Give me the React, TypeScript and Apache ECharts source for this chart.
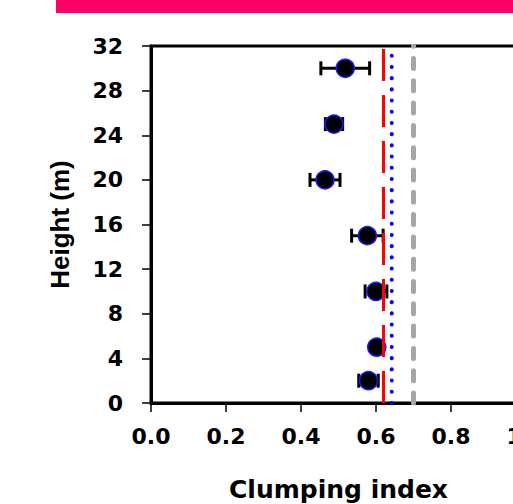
import React, { useEffect, useRef } from "react";
import * as echarts from "echarts";

// ---- data ----
const heights = [2, 5, 10, 15, 20, 25, 30];
const clumpingMean = [0.58, 0.602, 0.6, 0.577, 0.464, 0.488, 0.518];
const clumpingErr = [0.026, 0.01, 0.029, 0.042, 0.04, 0.023, 0.065];
const refRed = 0.62;
const refBlue = 0.642;
const refGray = 0.7;
const xTicks = [0, 0.2, 0.4, 0.6, 0.8, 1.0];
const yTicks = [0, 4, 8, 12, 16, 20, 24, 28, 32];

const TICK_FONT = "DejaVu Sans";

export default function App() {
  const ref = useRef<HTMLDivElement>(null);
  useEffect(() => {
    if (!ref.current) return;
    const chart = echarts.init(ref.current, undefined, { renderer: "svg" });
    const points = heights.map((h, i) => [clumpingMean[i], h]);
    const errData = heights.map((h, i) => [
      h,
      clumpingMean[i] - clumpingErr[i],
      clumpingMean[i] + clumpingErr[i],
    ]);
    const vline = (v: number) => [
      [v, yTicks[0]],
      [v, yTicks[yTicks.length - 1]],
    ];
    chart.setOption({
      animation: false,
      backgroundColor: "#ffffff",
      graphic: [
        {
          type: "rect",
          shape: { x: 56, y: 0, width: 457, height: 13 },
          style: { fill: "#ff0066" },
          silent: true,
        },
      ],
      grid: {
        left: 151,
        top: 46,
        width: 375,
        height: 357,
        outerBoundsMode: "none",
        containLabel: false,
        show: true,
        borderColor: "#000",
        borderWidth: 3,
        backgroundColor: "transparent",
      },
      xAxis: {
        type: "value",
        min: xTicks[0],
        max: xTicks[xTicks.length - 1],
        interval: 0.2,
        name: "Clumping index",
        nameLocation: "middle",
        nameGap: 74,
        nameTextStyle: {
          fontFamily: TICK_FONT,
          fontWeight: "bold",
          fontSize: 25,
          color: "#000",
        },
        axisLine: { show: true, onZero: false, lineStyle: { color: "#000", width: 3 } },
        axisTick: { show: true, length: 9, lineStyle: { color: "#000", width: 1.5 } },
        splitLine: { show: false },
        axisLabel: {
          margin: 22,
          fontFamily: TICK_FONT,
          fontWeight: "bold",
          fontSize: 22,
          color: "#000",
          formatter: (v: number) => v.toFixed(1),
        },
      },
      yAxis: {
        type: "value",
        min: yTicks[0],
        max: yTicks[yTicks.length - 1],
        interval: 4,
        name: "Height (m)",
        nameLocation: "middle",
        nameGap: 78,
        nameTextStyle: {
          fontFamily: "Liberation Sans",
          fontWeight: "bold",
          fontSize: 26,
          color: "#000",
        },
        axisLine: { show: true, onZero: false, lineStyle: { color: "#000", width: 3 } },
        axisTick: { show: true, length: 9, lineStyle: { color: "#000", width: 1.5 } },
        splitLine: { show: false },
        axisLabel: {
          margin: 28,
          fontFamily: TICK_FONT,
          fontWeight: "bold",
          fontSize: 22,
          color: "#000",
        },
      },
      series: [
        {
          type: "custom",
          name: "error",
          z: 2,
          data: errData,
          encode: { x: [1, 2], y: 0 },
          renderItem: (params: any, api: any) => {
            const h = api.value(0);
            const lo = api.coord([api.value(1), h]);
            const hi = api.coord([api.value(2), h]);
            const cap = 7;
            const style = { stroke: "#000", lineWidth: 3 };
            return {
              type: "group",
              children: [
                { type: "line", shape: { x1: lo[0], y1: lo[1], x2: hi[0], y2: hi[1] }, style },
                { type: "line", shape: { x1: lo[0], y1: lo[1] - cap, x2: lo[0], y2: lo[1] + cap }, style },
                { type: "line", shape: { x1: hi[0], y1: hi[1] - cap, x2: hi[0], y2: hi[1] + cap }, style },
              ],
            };
          },
        },
        {
          type: "scatter",
          name: "mean",
          z: 3,
          symbol: "circle",
          symbolSize: 18,
          data: points,
          itemStyle: { color: "#000", borderColor: "#1a1aff", borderWidth: 1.5, opacity: 1 },
        },
        {
          type: "line",
          name: "red",
          z: 4,
          data: vline(refRed),
          symbol: "none",
          lineStyle: { color: "#ff0000", width: 3, type: [32, 14] },
        },
        {
          type: "line",
          name: "blue",
          z: 4,
          data: vline(refBlue),
          symbol: "none",
          lineStyle: { color: "#0000ff", width: 4, type: [0.1, 11.1], cap: "round" },
        },
        {
          type: "line",
          name: "gray",
          z: 4,
          data: vline(refGray),
          symbol: "none",
          lineStyle: { color: "#a6a6a6", width: 5, type: [10, 12.3], cap: "round" },
        },
      ],
    });
    return () => chart.dispose();
  }, []);
  return (
    <div
      ref={ref}
      style={{ position: "absolute", left: 0, top: 0, width: 513, height: 504 }}
    />
  );
}
